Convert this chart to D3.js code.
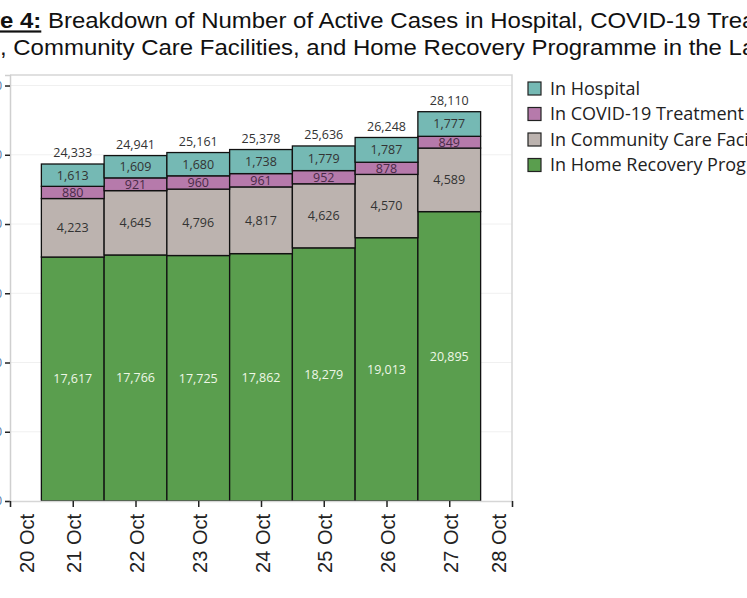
<!DOCTYPE html>
<html>
<head>
<meta charset="utf-8">
<script src="https://cdn.jsdelivr.net/npm/d3@7"></script>
<style>
  body { margin: 0; background: #fff; }
  svg { display: block; }
</style>
</head>
<body>
<svg id="chart" width="747" height="598"></svg>
<script>
// data
const dates = ['2021-10-21', '2021-10-22', '2021-10-23', '2021-10-24', '2021-10-25', '2021-10-26', '2021-10-27'];
const hospital = [1613, 1609, 1680, 1738, 1779, 1787, 1777];
const treatment = [880, 921, 960, 961, 952, 878, 849];
const community = [4223, 4645, 4796, 4817, 4626, 4570, 4589];
const homeRecovery = [17617, 17766, 17725, 17862, 18279, 19013, 20895];
const yTicks = [0, 5000, 10000, 15000, 20000, 25000, 30000];
const seriesNames = ['In Home Recovery Programme', 'In Community Care Facilities', 'In COVID-19 Treatment Facilities', 'In Hospital'];
const colors = ['#5a9e4e', '#bcb3af', '#b67aab', '#75b9b4'];
const labelColors = ['#eef7e6', '#333', '#4a2a48', '#333'];

const svg = d3.select('#chart');
const parse = d3.timeParse('%Y-%m-%d');

// plot area
const plotLeft = 10, plotRight = 512, plotTop = 75, plotBottom = 501;

const x = d3.scaleTime()
  .domain([parse('2021-10-20'), parse('2021-10-28')])
  .range([plotLeft, plotRight]);

const y = d3.scaleLinear()
  .domain([0, 30760])
  .range([plotBottom, plotTop]);

// rows for the stack
const rows = dates.map((d, i) => ({
  date: parse(d),
  home: homeRecovery[i],
  community: community[i],
  treatment: treatment[i],
  hospital: hospital[i]
}));
const keys = ['home', 'community', 'treatment', 'hospital'];
const stacked = d3.stack().keys(keys)(rows);

// gridlines
svg.append('g')
  .selectAll('line')
  .data(yTicks.slice(1))
  .join('line')
  .attr('x1', plotLeft).attr('x2', plotRight)
  .attr('y1', d => y(d)).attr('y2', d => y(d))
  .attr('stroke', '#f0f0f0');

// frame top + right
svg.append('path')
  .attr('d', `M${plotLeft},${plotTop}H${plotRight}V${plotBottom}`)
  .attr('fill', 'none')
  .attr('stroke', '#d6d6d6')
  .attr('stroke-width', 1.5);

// bars
const dayWidth = x(parse('2021-10-22')) - x(parse('2021-10-21'));
stacked.forEach((layer, li) => {
  svg.append('g')
    .selectAll('rect')
    .data(layer)
    .join('rect')
    .attr('x', d => x(d.data.date) - dayWidth / 2)
    .attr('width', dayWidth)
    .attr('y', d => y(d[1]))
    .attr('height', d => y(d[0]) - y(d[1]))
    .attr('fill', colors[li])
    .attr('stroke', '#111')
    .attr('stroke-width', 1.3);
});

// segment labels
const fmt = d3.format(',');
stacked.forEach((layer, li) => {
  svg.append('g')
    .selectAll('text')
    .data(layer)
    .join('text')
    .attr('x', d => x(d.data.date))
    .attr('y', d => (y(d[0]) + y(d[1])) / 2)
    .attr('dy', '0.35em')
    .attr('text-anchor', 'middle')
    .attr('font-family', 'Open Sans, sans-serif')
    .attr('font-size', 12.5)
    .attr('fill', labelColors[li])
    .text(d => fmt(d[1] - d[0]));
});

// totals above bars
svg.append('g')
  .selectAll('text')
  .data(rows)
  .join('text')
  .attr('x', d => x(d.date))
  .attr('y', d => y(d3.sum(keys, k => d[k])) - 11)
  .attr('dy', '0.35em')
  .attr('text-anchor', 'middle')
  .attr('font-family', 'Open Sans, sans-serif')
  .attr('font-size', 12.5)
  .attr('fill', '#333')
  .text(d => fmt(d3.sum(keys, k => d[k])));

// y axis (labels fall mostly outside the crop, as in the reference)
const yAxis = svg.append('g')
  .attr('transform', `translate(${plotLeft},0)`)
  .call(d3.axisLeft(y).tickValues(yTicks).tickSize(5).tickFormat(d3.format(',')));
yAxis.select('.domain').attr('stroke', '#cfcfcf').attr('stroke-width', 1.5);
yAxis.selectAll('.tick line').attr('stroke', '#222').attr('stroke-width', 1.5);
yAxis.selectAll('.tick text')
  .attr('x', -8)
  .attr('fill', '#4d78a8')
  .attr('font-family', 'Open Sans, sans-serif')
  .attr('font-size', 12);

// x axis
const xAxis = svg.append('g')
  .attr('transform', `translate(0,${plotBottom})`)
  .call(d3.axisBottom(x).ticks(d3.timeDay.every(1)).tickSize(6).tickFormat(d3.timeFormat('%-d Oct')));
xAxis.select('.domain').attr('stroke', '#d6d6d6').attr('stroke-width', 1.5);
xAxis.selectAll('.tick line').attr('stroke', '#222').attr('stroke-width', 1.5);
xAxis.selectAll('.tick text')
  .attr('font-family', 'Liberation Sans, Arial, sans-serif')
  .attr('font-size', 20)
  .attr('fill', '#222')
  .attr('text-anchor', 'end')
  .attr('dy', null)
  .attr('y', null)
  .attr('transform', d => {
    // edge labels sit inside the plot, like the original
    const shift = Math.min(Math.max(x(d), plotLeft + 15), plotRight - 15) - x(d);
    return `translate(${shift + 8},13) rotate(-90)`;
  });

// legend
const legend = svg.append('g').attr('transform', 'translate(528,82)');
const legendOrder = [3, 2, 1, 0];
legendOrder.forEach((si, i) => {
  const g = legend.append('g').attr('transform', `translate(0,${i * 25.5})`);
  g.append('rect')
    .attr('width', 13).attr('height', 13)
    .attr('fill', colors[si])
    .attr('stroke', '#222')
    .attr('stroke-width', 1.2);
  g.append('text')
    .attr('x', 22).attr('y', 6.5).attr('dy', '0.35em')
    .attr('font-family', 'Open Sans, sans-serif')
    .attr('font-size', 18)
    .attr('fill', '#222')
    .text(seriesNames[si]);
});

// title (the picture is cropped on both sides); the source glyphs are a bit wider than Arial
const title = svg.append('g')
  .attr('transform', 'scale(1.09,1)')
  .attr('font-family', 'Liberation Sans, Arial, sans-serif')
  .attr('font-size', 22)
  .attr('fill', '#111');

const t1 = title.append('text').attr('y', 28.5);
t1.append('tspan').attr('font-weight', 'bold').attr('text-decoration', 'underline').text('Figure 4:');
t1.append('tspan').text(' Breakdown of Number of Active Cases in Hospital, COVID-19 Treatment');
const hidden1 = title.append('text').attr('font-weight', 'bold').text('Figur');
t1.attr('x', -hidden1.node().getComputedTextLength());
hidden1.remove();

const t2 = title.append('text').attr('y', 55.5)
  .text('Facilities, Community Care Facilities, and Home Recovery Programme in the Last 7 Days');
const hidden2 = title.append('text').text('Facilities');
t2.attr('x', -hidden2.node().getComputedTextLength());
hidden2.remove();
</script>
</body>
</html>
